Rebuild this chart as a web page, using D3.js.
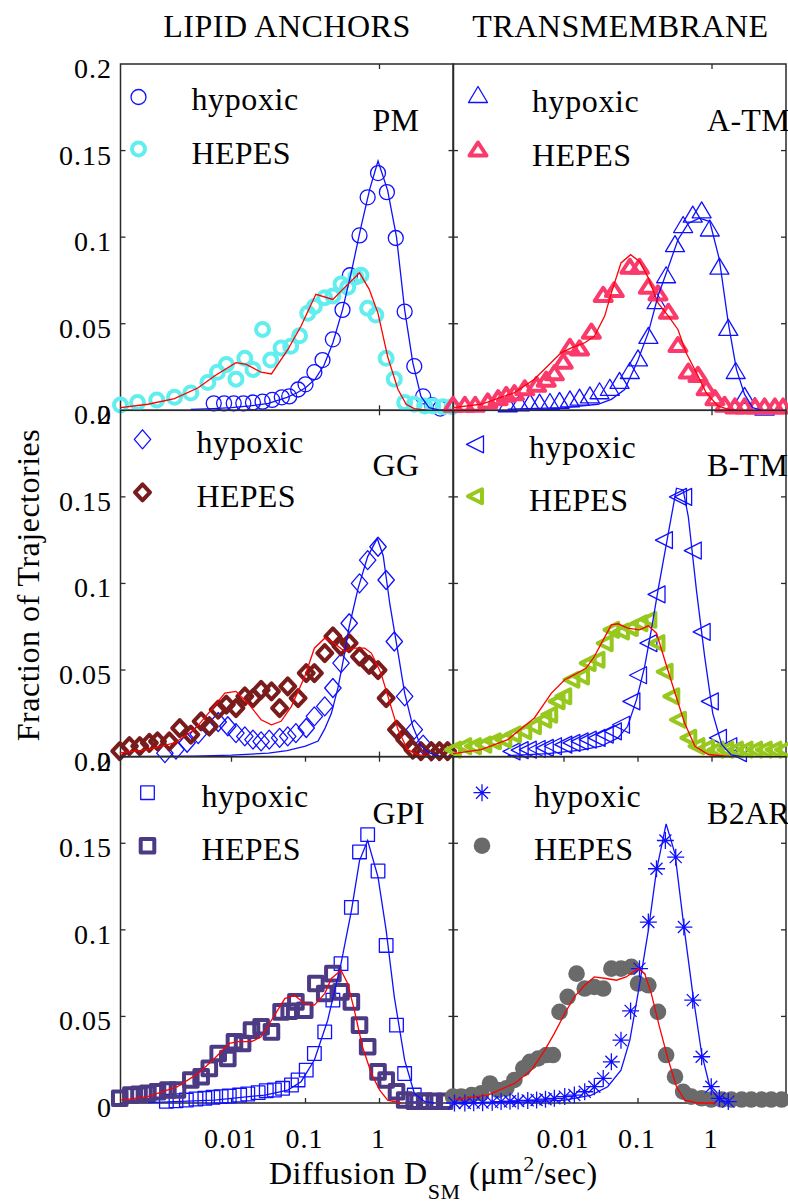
<!DOCTYPE html>
<html><head><meta charset="utf-8">
<script src="https://cdn.jsdelivr.net/npm/d3@7"></script>
<style>body{margin:0;background:#fff} svg{display:block} text{font-family:"Liberation Serif","Times New Roman",Tinos,"DejaVu Serif",serif;}</style>
</head><body>
<svg id="chart" width="788" height="1203"></svg>
<script>
// ---------------- DATA (log10 D, fraction of trajectories) ----------------
const panelNames = ["PM", "A-TM", "GG", "B-TM", "GPI", "B2AR"];
const columnTitles = ["LIPID ANCHORS", "TRANSMEMBRANE"];
const seriesNames = ["hypoxic", "HEPES"];
const xTickValues = [0.01, 0.1, 1];
const xTickLabels = ["0.01", "0.1", "1"];
const yTickValues = [0, 0.05, 0.1, 0.15, 0.2];
const yTickLabels = ["0", "0.05", "0.1", "0.15", "0.2"];
const hepesColors = ["#62eeee", "#fa3a6a", "#7a1c1c", "#97c81e", "#4c3a84", "#6a6a6a"];

const pmHypoxic = [[-2.24,0.004],[-2.1,0.004],[-1.97,0.004],[-1.84,0.004],[-1.71,0.0045],[-1.58,0.005],[-1.45,0.006],[-1.32,0.0075],[-1.22,0.008],[-1.1,0.012],[-1.0,0.015],[-0.88,0.022],[-0.77,0.029],[-0.63,0.041],[-0.5,0.058],[-0.4,0.078],[-0.27,0.101],[-0.16,0.123],[-0.02,0.137],[0.1,0.126],[0.22,0.0995],[0.34,0.057],[0.47,0.0255],[0.59,0.008],[0.71,0.003],[0.82,0.001]];
const pmHypoxicFit = [[-2.55,0.0005],[-2.25,0.001],[-2.0,0.0015],[-1.75,0.0025],[-1.5,0.004],[-1.25,0.0075],[-1.12,0.010],[-1.0,0.013],[-0.87,0.018],[-0.75,0.026],[-0.63,0.039],[-0.5,0.058],[-0.38,0.08],[-0.25,0.106],[-0.13,0.128],[-0.02,0.144],[0.11,0.127],[0.23,0.1],[0.34,0.058],[0.45,0.0275],[0.56,0.008],[0.67,0.0015],[0.8,0.0002],[0.95,0]];
const pmHepes = [[-3.5,0.003],[-3.27,0.0045],[-3.01,0.006],[-2.77,0.0075],[-2.55,0.010],[-2.32,0.016],[-2.19,0.022],[-2.07,0.0265],[-1.94,0.018],[-1.82,0.030],[-1.71,0.0236],[-1.58,0.0467],[-1.47,0.029],[-1.33,0.036],[-1.2,0.037],[-1.08,0.043],[-0.97,0.056],[-0.88,0.060],[-0.74,0.065],[-0.63,0.066],[-0.52,0.073],[-0.43,0.071],[-0.32,0.077],[-0.25,0.078],[-0.16,0.059],[-0.05,0.055],[0.09,0.030],[0.2,0.018],[0.34,0.0045],[0.47,0.0035],[0.61,0.0025],[0.72,0.0025],[0.86,0.002],[0.98,0.002]];
const pmHepesFit = [[-3.5,0.0015],[-3.13,0.0035],[-2.77,0.0067],[-2.45,0.013],[-2.23,0.0198],[-1.94,0.0275],[-1.8,0.0265],[-1.6,0.022],[-1.46,0.021],[-1.24,0.035],[-1.06,0.0487],[-0.86,0.067],[-0.63,0.064],[-0.5,0.0697],[-0.27,0.0794],[-0.14,0.070],[-0.02,0.056],[0.11,0.031],[0.25,0.012],[0.36,0.0035],[0.47,0.001],[0.65,0]];

const atmHypoxic = [[-2.76,0.0035],[-2.6,0.004],[-2.46,0.0044],[-2.33,0.0044],[-2.19,0.0048],[-2.06,0.0054],[-1.92,0.0063],[-1.79,0.0073],[-1.65,0.0086],[-1.52,0.011],[-1.38,0.013],[-1.25,0.017],[-1.11,0.0227],[-1.0,0.030],[-0.86,0.043],[-0.75,0.063],[-0.62,0.078],[-0.5,0.096],[-0.39,0.107],[-0.26,0.113],[-0.14,0.1155],[-0.03,0.105],[0.1,0.083],[0.22,0.0476],[0.32,0.0227],[0.44,0.0083],[0.58,0.0025],[0.71,0.0015]];
const atmHypoxicFit = [[-2.76,0.0006],[-1.99,0.0015],[-1.54,0.0035],[-1.36,0.0063],[-1.18,0.012],[-1.0,0.029],[-0.86,0.045],[-0.73,0.066],[-0.62,0.079],[-0.46,0.0985],[-0.32,0.108],[-0.17,0.111],[-0.03,0.109],[0.1,0.087],[0.22,0.0505],[0.33,0.0236],[0.44,0.0092],[0.55,0.0015],[0.67,0]];
const atmHepes = [[-3.5,0.0035],[-3.34,0.0035],[-3.2,0.0035],[-3.03,0.0054],[-2.89,0.0073],[-2.78,0.0092],[-2.67,0.0102],[-2.53,0.013],[-2.37,0.015],[-2.24,0.018],[-2.13,0.0217],[-2.01,0.0284],[-1.92,0.037],[-1.79,0.036],[-1.63,0.0457],[-1.47,0.0669],[-1.32,0.0697],[-1.11,0.0832],[-0.98,0.0832],[-0.86,0.0717],[-0.73,0.0678],[-0.59,0.0572],[-0.46,0.038],[-0.32,0.0227],[-0.19,0.0207],[-0.08,0.013],[0.04,0.0073],[0.17,0.0035],[0.31,0.0025],[0.44,0.0025],[0.58,0.0025],[0.71,0.0025],[0.85,0.0025],[0.96,0.0025]];
const atmHepesFit = [[-3.5,0.0015],[-3.12,0.0035],[-2.67,0.0102],[-2.4,0.0179],[-2.22,0.0256],[-2.04,0.0332],[-1.9,0.036],[-1.72,0.039],[-1.59,0.0428],[-1.45,0.0544],[-1.36,0.0678],[-1.23,0.0851],[-1.1,0.0899],[-0.98,0.086],[-0.86,0.0765],[-0.73,0.062],[-0.59,0.0544],[-0.46,0.0467],[-0.35,0.0332],[-0.21,0.0217],[-0.08,0.0102],[0.08,0.0025],[0.22,0.0006],[0.35,0]];

const ggHypoxic = [[-2.9,0.002],[-2.75,0.004],[-2.6,0.008],[-2.45,0.013],[-2.3,0.0175],[-2.18,0.020],[-2.05,0.0175],[-1.94,0.0136],[-1.82,0.0117],[-1.71,0.0098],[-1.6,0.0088],[-1.49,0.0098],[-1.35,0.0108],[-1.24,0.0117],[-1.13,0.0136],[-0.99,0.0165],[-0.88,0.0232],[-0.74,0.029],[-0.63,0.0396],[-0.52,0.054],[-0.41,0.077],[-0.27,0.100],[-0.16,0.1135],[-0.02,0.1212],[0.09,0.102],[0.2,0.0665],[0.34,0.0348],[0.47,0.0156],[0.59,0.0069],[0.7,0.003]];
const ggHypoxicFit = [[-3.5,0],[-2.5,0.0003],[-2.0,0.0008],[-1.5,0.002],[-1.25,0.0035],[-1.0,0.006],[-0.83,0.009],[-0.74,0.016],[-0.65,0.025],[-0.56,0.04],[-0.47,0.06],[-0.41,0.075],[-0.29,0.097],[-0.16,0.1155],[-0.03,0.126],[0.05,0.116],[0.14,0.088],[0.25,0.06],[0.34,0.0367],[0.45,0.0175],[0.56,0.006],[0.68,0.002],[0.83,0]];
const ggHepes = [[-3.51,0.0031],[-3.38,0.006],[-3.24,0.006],[-3.11,0.0079],[-3.0,0.0088],[-2.84,0.0088],[-2.7,0.0165],[-2.55,0.0127],[-2.41,0.0204],[-2.3,0.0175],[-2.18,0.0271],[-2.07,0.030],[-1.94,0.028],[-1.82,0.0348],[-1.71,0.0338],[-1.6,0.0386],[-1.46,0.0377],[-1.35,0.028],[-1.24,0.0405],[-1.1,0.0338],[-0.99,0.0482],[-0.88,0.0482],[-0.74,0.0598],[-0.63,0.0694],[-0.52,0.0636],[-0.41,0.0655],[-0.27,0.0578],[-0.14,0.053],[-0.02,0.050],[0.09,0.0338],[0.23,0.0156],[0.34,0.0098],[0.45,0.004],[0.56,0.0031],[0.7,0.0031],[0.81,0.0031],[0.92,0.0031]];
const ggHepesFit = [[-3.51,0.0021],[-3.13,0.004],[-2.77,0.0079],[-2.5,0.0156],[-2.27,0.0271],[-2.09,0.0367],[-1.94,0.0377],[-1.78,0.031],[-1.6,0.0213],[-1.46,0.0184],[-1.33,0.0204],[-1.19,0.029],[-1.01,0.0463],[-0.88,0.0626],[-0.74,0.0684],[-0.61,0.0655],[-0.47,0.0607],[-0.34,0.0626],[-0.2,0.0626],[-0.11,0.0598],[0.02,0.0482],[0.14,0.031],[0.25,0.0156],[0.38,0.004],[0.52,0.0012],[0.7,0]];

const btmHypoxic = [[-2.71,0.003],[-2.6,0.0037],[-2.49,0.004],[-2.37,0.0044],[-2.26,0.005],[-2.15,0.006],[-2.01,0.0069],[-1.9,0.0079],[-1.79,0.0088],[-1.68,0.0098],[-1.56,0.0108],[-1.45,0.0127],[-1.34,0.0146],[-1.23,0.0184],[-1.09,0.0319],[-1.0,0.047],[-0.86,0.0655],[-0.75,0.0937],[-0.65,0.125],[-0.46,0.150],[-0.39,0.150],[-0.26,0.119],[-0.14,0.072],[-0.03,0.0319],[0.08,0.0108],[0.22,0.006],[0.35,0.002]];
const btmHypoxicFit = [[-2.76,0.0006],[-2.22,0.0017],[-1.77,0.0037],[-1.5,0.006],[-1.27,0.0108],[-1.14,0.0175],[-1.02,0.0329],[-0.91,0.052],[-0.82,0.0732],[-0.73,0.096],[-0.59,0.129],[-0.48,0.155],[-0.39,0.154],[-0.32,0.1385],[-0.21,0.096],[-0.1,0.058],[0.01,0.025],[0.13,0.007],[0.26,0.001],[0.4,0]];
const btmHepes = [[-3.5,0.004],[-3.36,0.006],[-3.23,0.006],[-3.09,0.0069],[-2.96,0.0088],[-2.82,0.0098],[-2.69,0.0127],[-2.55,0.0146],[-2.42,0.0175],[-2.28,0.0213],[-2.2,0.0242],[-2.1,0.0319],[-2.01,0.0348],[-1.9,0.0444],[-1.77,0.0463],[-1.68,0.054],[-1.56,0.0559],[-1.45,0.0655],[-1.36,0.0732],[-1.23,0.0722],[-1.11,0.0742],[-0.98,0.077],[-0.86,0.079],[-0.75,0.0655],[-0.64,0.049],[-0.55,0.0348],[-0.46,0.0213],[-0.32,0.0108],[-0.21,0.006],[-0.08,0.005],[0.05,0.004],[0.18,0.004],[0.31,0.004],[0.44,0.004],[0.57,0.004],[0.7,0.004],[0.83,0.004],[0.96,0.004]];
const btmHepesFit = [[-3.5,0.0017],[-3.12,0.004],[-2.76,0.0098],[-2.4,0.0223],[-2.17,0.0367],[-1.99,0.0444],[-1.86,0.0473],[-1.7,0.0511],[-1.59,0.0578],[-1.47,0.0674],[-1.36,0.0761],[-1.27,0.0767],[-1.14,0.0742],[-0.98,0.0732],[-0.86,0.0755],[-0.75,0.0713],[-0.64,0.0559],[-0.5,0.0367],[-0.37,0.0194],[-0.23,0.006],[-0.05,0.0012],[0.26,0]];

const gpiHypoxic = [[-2.88,0.001],[-2.75,0.0013],[-2.61,0.0017],[-2.48,0.0023],[-2.36,0.0027],[-2.25,0.0033],[-2.14,0.0037],[-2.03,0.004],[-1.89,0.0046],[-1.78,0.0052],[-1.64,0.006],[-1.53,0.0071],[-1.42,0.0075],[-1.31,0.0085],[-1.19,0.0104],[-1.1,0.0133],[-0.99,0.019],[-0.88,0.0286],[-0.74,0.0411],[-0.63,0.0594],[-0.52,0.0805],[-0.38,0.113],[-0.27,0.145],[-0.16,0.155],[-0.02,0.134],[0.09,0.091],[0.23,0.045],[0.34,0.017],[0.47,0.0046],[0.61,0.0017]];
const gpiHypoxicFit = [[-3.13,0.0002],[-2.23,0.0017],[-1.55,0.0046],[-1.24,0.0075],[-1.06,0.0123],[-0.88,0.0248],[-0.7,0.0478],[-0.52,0.0805],[-0.38,0.111],[-0.27,0.14],[-0.16,0.1516],[-0.02,0.1305],[0.09,0.0997],[0.2,0.0613],[0.34,0.0248],[0.47,0.0056],[0.61,0.0008],[0.74,0]];
const gpiHepes = [[-3.51,0.0027],[-3.36,0.0046],[-3.25,0.005],[-3.13,0.0056],[-3.0,0.0065],[-2.86,0.0075],[-2.73,0.0075],[-2.55,0.0133],[-2.41,0.0152],[-2.3,0.020],[-2.18,0.0286],[-2.05,0.0257],[-1.96,0.0354],[-1.85,0.0344],[-1.73,0.0421],[-1.6,0.044],[-1.46,0.0411],[-1.33,0.0526],[-1.22,0.053],[-1.13,0.0584],[-1.01,0.0536],[-0.86,0.069],[-0.74,0.0632],[-0.63,0.0747],[-0.52,0.0642],[-0.38,0.0584],[-0.27,0.045],[-0.16,0.0325],[-0.02,0.018],[0.09,0.0133],[0.23,0.0065],[0.34,0.0017],[0.47,0.001],[0.61,0.001],[0.74,0.001],[0.88,0.001]];
const gpiHepesFit = [[-3.49,0.0017],[-3.13,0.0037],[-2.73,0.0094],[-2.45,0.0171],[-2.23,0.0257],[-2.03,0.0344],[-1.91,0.0354],[-1.73,0.0354],[-1.6,0.0382],[-1.46,0.0478],[-1.28,0.0603],[-1.15,0.0622],[-1.01,0.0574],[-0.88,0.0565],[-0.74,0.0632],[-0.65,0.0719],[-0.52,0.0767],[-0.43,0.069],[-0.34,0.0536],[-0.23,0.0325],[-0.11,0.0171],[0,0.0075],[0.11,0.0017],[0.29,0]];

const b2arHypoxic = [[-3.48,0],[-3.34,0],[-3.22,0.0002],[-3.1,0.0002],[-2.97,0.0005],[-2.85,0.0008],[-2.73,0.001],[-2.62,0.0012],[-2.49,0.0015],[-2.37,0.0017],[-2.25,0.0022],[-2.13,0.0027],[-1.99,0.0037],[-1.86,0.0046],[-1.72,0.0065],[-1.59,0.0094],[-1.47,0.0142],[-1.36,0.0238],[-1.23,0.0363],[-1.1,0.0532],[-0.98,0.0776],[-0.86,0.1045],[-0.75,0.1353],[-0.63,0.1516],[-0.49,0.142],[-0.38,0.1016],[-0.26,0.0594],[-0.14,0.0267],[-0.01,0.0094],[0.1,0.0027],[0.22,0.0008]];
const b2arHypoxicFit = [[-3.5,0],[-2.67,0.0002],[-1.99,0.0017],[-1.63,0.0046],[-1.41,0.0094],[-1.23,0.019],[-1.11,0.0363],[-1.0,0.0632],[-0.86,0.0997],[-0.75,0.1343],[-0.62,0.1612],[-0.5,0.1439],[-0.39,0.1055],[-0.26,0.0632],[-0.14,0.0286],[-0.03,0.0094],[0.08,0.0027],[0.22,0]];
const b2arHepes = [[-3.5,0.0037],[-3.39,0.0037],[-3.25,0.0046],[-3.12,0.0056],[-3.0,0.0113],[-2.89,0.0075],[-2.78,0.0085],[-2.67,0.0133],[-2.55,0.020],[-2.46,0.0238],[-2.35,0.0257],[-2.24,0.0277],[-2.15,0.0277],[-2.06,0.0526],[-1.95,0.0613],[-1.83,0.0747],[-1.72,0.0661],[-1.59,0.067],[-1.47,0.0661],[-1.36,0.0776],[-1.23,0.0776],[-1.09,0.0786],[-1.0,0.069],[-0.86,0.068],[-0.73,0.0526],[-0.62,0.0277],[-0.5,0.0152],[-0.39,0.0065],[-0.28,0.0037],[-0.14,0.0027],[-0.01,0.002],[0.13,0.002],[0.26,0.002],[0.4,0.002],[0.53,0.002],[0.67,0.002],[0.8,0.002],[0.94,0.002]];
const b2arHepesFit = [[-3.48,0.0021],[-3.03,0.0046],[-2.67,0.0113],[-2.44,0.019],[-2.26,0.0305],[-2.13,0.0402],[-1.99,0.0517],[-1.86,0.0613],[-1.72,0.068],[-1.59,0.0728],[-1.43,0.0719],[-1.29,0.0709],[-1.16,0.0728],[-1.0,0.0776],[-0.91,0.0747],[-0.82,0.0632],[-0.71,0.044],[-0.59,0.0248],[-0.48,0.0094],[-0.37,0.0017],[-0.19,0],[0.04,0]];

// ---------------- LAYOUT ----------------
const FONT = "Liberation Serif, Times New Roman, Tinos, DejaVu Serif, serif";
const BLUE = "#1010ff", RED = "#ff0000", AXIS = "#2a2a2a";
const colX = [120.5, 453], panelW = 333;
const rowTop = [64, 410.3, 756.7], panelH = 346.3;

const panels = [
  {name: panelNames[0], col: 0, row: 0, hyp: pmHypoxic, hypFit: pmHypoxicFit, hep: pmHepes, hepFit: pmHepesFit, hypM: "circle", hepM: "circle", color: hepesColors[0], hepTop: true,
   leg: {mx: 18, my1: 33, my2: 85, tx: 71, ty1: 46, ty2: 100}, lab: {x: 252, y: 67}},
  {name: panelNames[1], col: 1, row: 0, hyp: atmHypoxic, hypFit: atmHypoxicFit, hep: atmHepes, hepFit: atmHepesFit, hypM: "triUp", hepM: "triUp", color: hepesColors[1], hepTop: true,
   leg: {mx: 25, my1: 31, my2: 85, tx: 79, ty1: 48, ty2: 102}, lab: {x: 254, y: 67}},
  {name: panelNames[2], col: 0, row: 1, hyp: ggHypoxic, hypFit: ggHypoxicFit, hep: ggHepes, hepFit: ggHepesFit, hypM: "diamond", hepM: "diamond", color: hepesColors[2], hepTop: true,
   leg: {mx: 22, my1: 29, my2: 82, tx: 76, ty1: 43, ty2: 97}, lab: {x: 252, y: 66}},
  {name: panelNames[3], col: 1, row: 1, hyp: btmHypoxic, hypFit: btmHypoxicFit, hep: btmHepes, hepFit: btmHepesFit, hypM: "triLeft", hepM: "triLeft", color: hepesColors[3], hepTop: true,
   leg: {mx: 22, my1: 34, my2: 86, tx: 76, ty1: 48, ty2: 101}, lab: {x: 254, y: 66}},
  {name: panelNames[4], col: 0, row: 2, hyp: gpiHypoxic, hypFit: gpiHypoxicFit, hep: gpiHepes, hepFit: gpiHepesFit, hypM: "square", hepM: "square", color: hepesColors[4], hepTop: true,
   leg: {mx: 27, my1: 36, my2: 89, tx: 81, ty1: 50, ty2: 103}, lab: {x: 252, y: 67}},
  {name: panelNames[5], col: 1, row: 2, hyp: b2arHypoxic, hypFit: b2arHypoxicFit, hep: b2arHepes, hepFit: b2arHepesFit, hypM: "asterisk", hepM: "dot", color: hepesColors[5], hepTop: false,
   leg: {mx: 29, my1: 36, my2: 89, tx: 81, ty1: 50, ty2: 103}, lab: {x: 254, y: 67}}
];

const svg = d3.select("#chart");
svg.append("rect").attr("width", 788).attr("height", 1203).attr("fill", "#fff");

function txt(sel, size, ls) {
  return sel.attr("font-family", FONT).style("font-family", FONT).attr("font-size", size)
    .attr("letter-spacing", ls).attr("fill", "#000");
}

function drawMarker(g, type, thick, color) {
  const sw = thick ? 4 : 1.3;
  const common = s => s.attr("fill", "none").attr("stroke", color).attr("stroke-width", sw).attr("stroke-linejoin", "round");
  switch (type) {
    case "circle":
      common(g.append("circle").attr("r", thick ? 6.5 : 7.5)); break;
    case "triUp":
      common(g.append("path").attr("d", thick ? "M0,-6.5L8.5,6.5L-8.5,6.5Z" : "M0,-8.5L9.5,7.5L-9.5,7.5Z")); break;
    case "diamond":
      common(g.append("path").attr("d", thick ? "M0,-8L7.5,0L0,8L-7.5,0Z" : "M0,-9.5L8.2,0L0,9.5L-8.2,0Z")); break;
    case "triLeft":
      common(g.append("path").attr("d", thick ? "M-7,0L7,-7L7,7Z" : "M-8.5,0L8.5,-8.5L8.5,8.5Z")); break;
    case "square":
      common(g.append("path").attr("d", "M-6.8,-6.8h13.6v13.6h-13.6Z")); break;
    case "asterisk":
      common(g.append("path").attr("d", "M-8.5,0H8.5M0,-8.5V8.5M-6,-6L6,6M-6,6L6,-6")); break;
    case "dot":
      g.append("circle").attr("r", 8.3).attr("fill", color); break;
  }
}

panels.forEach(p => {
  const x0 = colX[p.col], y0 = rowTop[p.row];
  const x = d3.scaleLog().domain([Math.pow(10, -3.5), 10]).range([x0, x0 + panelW]);
  const y = d3.scaleLinear().domain([0, 0.2]).range([y0 + panelH, y0]);
  const g = svg.append("g");

  g.append("rect").attr("x", x0).attr("y", y0).attr("width", panelW).attr("height", panelH)
    .attr("fill", "none").attr("stroke", AXIS).attr("stroke-width", 1.5);

  const yTicksInner = yTickValues.filter(v => v > 0 && v < 0.2);
  yTicksInner.forEach(v => {
    g.append("line").attr("x1", x0).attr("x2", x0 + 5).attr("y1", y(v)).attr("y2", y(v)).attr("stroke", AXIS).attr("stroke-width", 1.3);
    g.append("line").attr("x1", x0 + panelW - 5).attr("x2", x0 + panelW).attr("y1", y(v)).attr("y2", y(v)).attr("stroke", AXIS).attr("stroke-width", 1.3);
  });
  const topTicks = p.row === 2 ? xTickValues : [1];
  const botTicks = p.row === 2 ? xTickValues : [1];
  topTicks.forEach(v => g.append("line").attr("x1", x(v)).attr("x2", x(v)).attr("y1", y0).attr("y2", y0 + 5).attr("stroke", AXIS).attr("stroke-width", 1.3));
  botTicks.forEach(v => g.append("line").attr("x1", x(v)).attr("x2", x(v)).attr("y1", y0 + panelH).attr("y2", y0 + panelH - 5).attr("stroke", AXIS).attr("stroke-width", 1.3));

  if (p.col === 0) {
    yTickValues.forEach((v, i) => {
      txt(svg.append("text"), 28, 1).attr("x", 112).attr("y", y(v) + 14).attr("text-anchor", "end").text(yTickLabels[i]);
    });
  }
  if (p.row === 2) {
    xTickValues.forEach((v, i) => {
      txt(svg.append("text"), 28, 1).attr("x", x(v) - 1).attr("y", 1148).attr("text-anchor", "middle").text(xTickLabels[i]);
    });
  }

  const drawSeries = (data, type, thick, color) => {
    data.forEach(d => {
      const m = g.append("g").attr("transform", `translate(${x(Math.pow(10, d[0]))},${y(d[1])})`);
      drawMarker(m, type, thick, color);
    });
  };
  if (p.hepTop) {
    drawSeries(p.hyp, p.hypM, false, BLUE);
    drawSeries(p.hep, p.hepM, true, p.color);
  } else {
    drawSeries(p.hep, p.hepM, true, p.color);
    drawSeries(p.hyp, p.hypM, false, BLUE);
  }

  const line = d3.line().x(d => x(Math.pow(10, d[0]))).y(d => y(d[1]));
  g.append("path").attr("d", line(p.hypFit)).attr("fill", "none").attr("stroke", BLUE).attr("stroke-width", 1.3);
  g.append("path").attr("d", line(p.hepFit)).attr("fill", "none").attr("stroke", RED).attr("stroke-width", 1.3);

  const m1 = g.append("g").attr("transform", `translate(${x0 + p.leg.mx},${y0 + p.leg.my1})`);
  drawMarker(m1, p.hypM, false, BLUE);
  const m2 = g.append("g").attr("transform", `translate(${x0 + p.leg.mx},${y0 + p.leg.my2})`);
  drawMarker(m2, p.hepM, true, p.color);
  txt(g.append("text"), 32, 0.6).attr("x", x0 + p.leg.tx).attr("y", y0 + p.leg.ty1).text(seriesNames[0]);
  txt(g.append("text"), 32, 0.3).attr("x", x0 + p.leg.tx).attr("y", y0 + p.leg.ty2).text(seriesNames[1]);
  txt(g.append("text"), 32, 0.3).attr("x", x0 + p.lab.x).attr("y", y0 + p.lab.y).text(p.name);
});

columnTitles.forEach((t, i) => {
  txt(svg.append("text"), 32, 0.5).attr("x", colX[i] + panelW / 2 + (i === 1 ? 1 : 0)).attr("y", 37)
    .attr("text-anchor", "middle").text(t);
});

txt(svg.append("text"), 32, 0.5).attr("transform", "translate(38.5,585) rotate(-90)").attr("text-anchor", "middle")
  .text("Fraction of Trajectories");

const xt = txt(svg.append("text"), 32, 0.5).attr("x", 269).attr("y", 1184);
xt.append("tspan").text("Diffusion D");
xt.append("tspan").attr("dy", 15).attr("font-size", 22).text("SM");
xt.append("tspan").attr("dy", -15).text(" (\u03bcm");
xt.append("tspan").attr("dy", -13).attr("font-size", 22).text("2");
xt.append("tspan").attr("dy", 13).text("/sec)");
</script>
</body></html>
